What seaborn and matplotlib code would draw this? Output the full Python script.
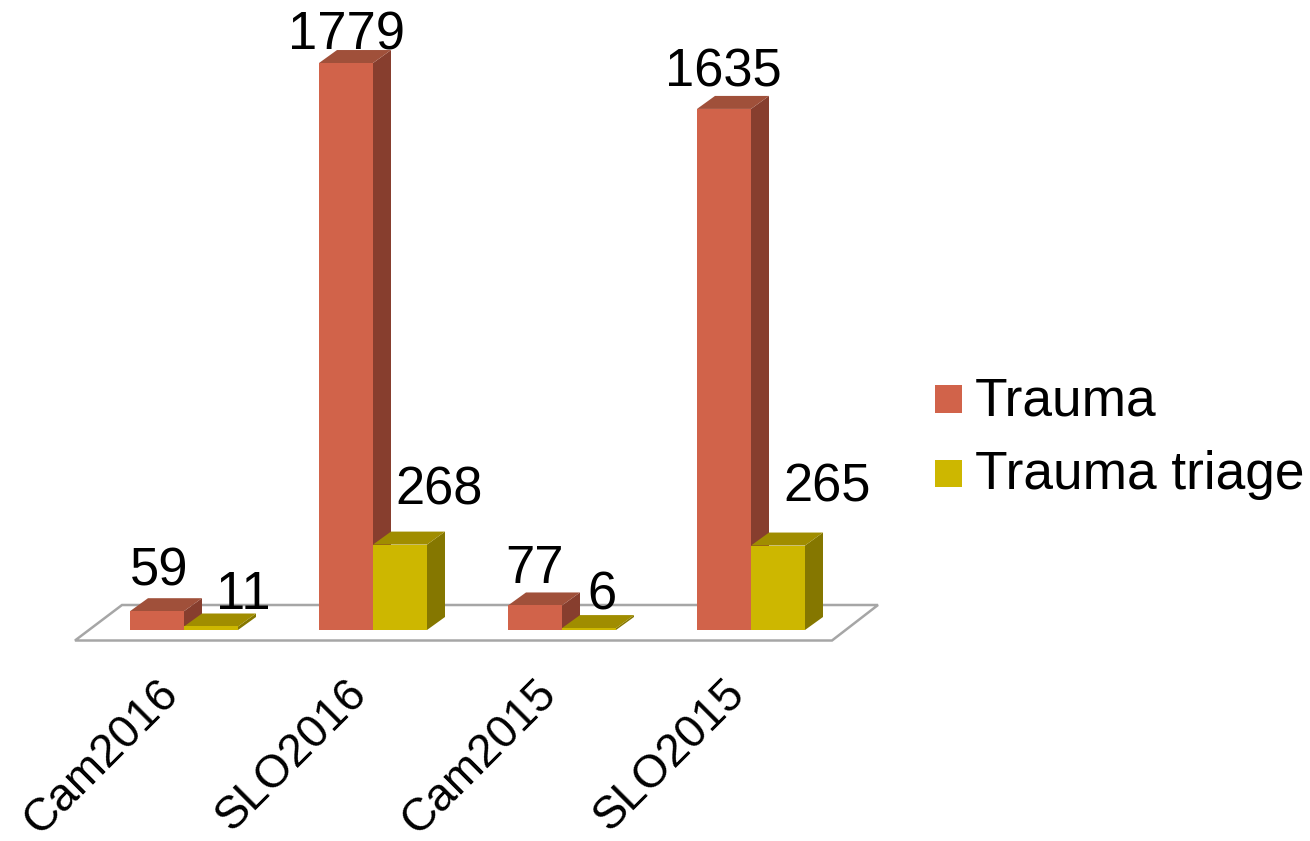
import matplotlib
matplotlib.use("Agg")
import matplotlib.pyplot as plt
from matplotlib.patches import Polygon
from matplotlib.transforms import ScaledTranslation
import pandas as pd
import seaborn as sns

# Data
categories = ["Cam2016", "SLO2016", "Cam2015", "SLO2015"]
trauma = [59, 1779, 77, 1635]
trauma_triage = [11, 268, 6, 265]
series_names = ["Trauma", "Trauma triage"]

# Styles
FRONT = {"Trauma": "#D1634A", "Trauma triage": "#CDB700"}
TOP = {"Trauma": "#A0503A", "Trauma triage": "#A08D00"}
SIDE = {"Trauma": "#873E2E", "Trauma triage": "#857700"}
FONT = "Liberation Sans"
FS_VALUE = 37.8
FS_TICK = 33
FS_LEGEND = 38.3

# Layout, in reference pixels
W, H = 1310, 841
PX_PER_CAT = 189.0
PX_PER_UNIT = 0.3187
X0_PX = 184.0          # centre of first category
BASE_PX = 630.0        # baseline of bars
DEPTH_X, DEPTH_Y = 18.0, 13.0
# label nudges: (dx from bar centre, baseline height above bar top)
label_nudge = [(2, 26), (32, 17.5), (1, 14), (39, 40),
               (-1, 22), (13, 19), (-1, 22), (49, 44)]

sns.set_theme(style="white")
plt.rcParams["font.family"] = [FONT, "DejaVu Sans"]

df = pd.DataFrame({
    "category": categories * 2,
    "value": trauma + trauma_triage,
    "series": [series_names[0]] * 4 + [series_names[1]] * 4,
})

fig = plt.figure(figsize=(W / 100, H / 100), dpi=100)
left = X0_PX - PX_PER_CAT / 2
ax = fig.add_axes([left / W, (H - BASE_PX) / H, 4 * PX_PER_CAT / W, BASE_PX / H])

sns.barplot(data=df, x="category", y="value", hue="series", order=categories,
            hue_order=series_names, palette=FRONT, width=108 / PX_PER_CAT,
            dodge=True, gap=0, linewidth=0, saturation=1, errorbar=None, ax=ax)
ax.set_xlim(-0.5, 3.5)
ax.set_ylim(0, BASE_PX / PX_PER_UNIT)

dx = DEPTH_X / PX_PER_CAT
dy = DEPTH_Y / PX_PER_UNIT


def to_x(px):
    return (px - X0_PX) / PX_PER_CAT


def to_y(py):
    return (BASE_PX - py) / PX_PER_UNIT


# Floor
floor = Polygon([(to_x(75), to_y(640.5)), (to_x(832), to_y(640.5)),
                 (to_x(878), to_y(605)), (to_x(122), to_y(605))],
                closed=True, facecolor="white", edgecolor="#A6A6A6",
                linewidth=1.8, joinstyle="miter", clip_on=False, zorder=1)
ax.add_patch(floor)

# 3D faces and value labels
bars = []
for s_i, name in enumerate(series_names):
    cont = ax.containers[s_i]
    for c_i, rect in enumerate(cont.patches):
        bars.append((c_i, s_i, name, rect))
bars.sort(key=lambda b: (b[0], b[1]))

for idx, (c_i, s_i, name, rect) in enumerate(bars):
    x0, x1 = rect.get_x(), rect.get_x() + rect.get_width()
    h = rect.get_height()
    z = 2 + s_i + c_i * 0.01
    rect.set_zorder(z + 0.5)
    rect.set_clip_on(False)
    ax.add_patch(Polygon([(x1, 0), (x1 + dx, dy), (x1 + dx, h + dy), (x1, h)],
                         closed=True, facecolor=SIDE[name], edgecolor="none",
                         clip_on=False, zorder=z))
    ax.add_patch(Polygon([(x0, h), (x0 + dx, h + dy), (x1 + dx, h + dy), (x1, h)],
                         closed=True, facecolor=TOP[name], edgecolor="none",
                         clip_on=False, zorder=z))
    nx, ny = label_nudge[idx]
    ax.annotate(f"{int(h)}", xy=((x0 + x1) / 2, h),
                xytext=(nx * 0.72, ny * 0.72), textcoords="offset points",
                ha="center", va="baseline", fontsize=FS_VALUE, family=FONT,
                color="black", zorder=6, annotation_clip=False)

# Axis
sns.despine(ax=ax, left=True, bottom=True, top=True, right=True)
ax.set_xlabel("")
ax.set_ylabel("")
ax.set_yticks([])
ax.set_xticks(range(len(categories)))
ax.set_xticklabels(categories, rotation=45, ha="right", va="top",
                   rotation_mode="anchor", fontsize=FS_TICK, family=FONT, color="black")
ax.tick_params(axis="x", length=0, pad=0)
offset = ScaledTranslation(-28 / 100, -41 / 100, fig.dpi_scale_trans)
for lab in ax.get_xticklabels():
    lab.set_transform(lab.get_transform() + offset)

# Legend
handles, labels = ax.get_legend_handles_labels()
leg = ax.legend(handles, labels, loc="upper left",
                bbox_to_anchor=(935 / W, 1 - 376 / H),
                bbox_transform=fig.transFigure, frameon=False, fontsize=FS_LEGEND,
                handlelength=27 * 0.72 / FS_LEGEND, handleheight=0.41,
                handletextpad=13 * 0.72 / FS_LEGEND, labelspacing=0.46, borderpad=0,
                borderaxespad=0)
for t in leg.get_texts():
    t.set_color("black")
    t.set_family(FONT)
for hnd in leg.legend_handles:
    hnd.set_y(hnd.get_y() - 3 * 0.72)

fig.savefig("out.png", dpi=100, facecolor="white")
